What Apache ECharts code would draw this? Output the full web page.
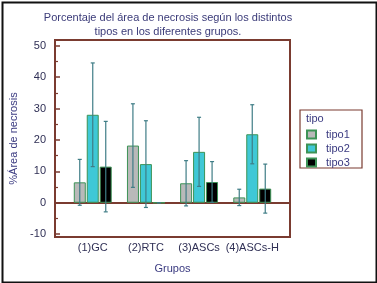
<!DOCTYPE html>
<html>
<head>
<meta charset="utf-8">
<script src="https://cdn.jsdelivr.net/npm/echarts@6/dist/echarts.min.js"></script>
<style>
  html, body { margin: 0; padding: 0; background: #fff; }
  #chart { width: 377px; height: 283px; }
</style>
</head>
<body>
<div id="chart"></div>
<script>
// datos
var grupos = ['(1)GC', '(2)RTC', '(3)ASCs', '(4)ASCs-H'];
var tipo1 = [6.5, 18.2, 6.2, 1.7];
var tipo2 = [28.0, 12.3, 16.2, 21.8];
var tipo3 = [11.5, 0, 6.6, 4.5];
var sd1 = [7.3, 13.3, 7.2, 2.6];
var sd2 = [16.5, 13.8, 11.0, 9.4];
var sd3 = [14.4, 0, 6.5, 7.8];
var yTicks = [-10, 0, 10, 20, 30, 40, 50];
var yMinor = [-5, 5, 15, 25, 35, 45];

var frameColor = '#7a3b30';
var textColor = '#2f2f55';
var nameColor = '#3a3a80';
var colores = ['#b9b9b9', '#3fc8d6', '#000000'];
var borde = '#3d9356';
var errColor = '#3f7d86';

var tipos = [tipo1, tipo2, tipo3];
var sds = [sd1, sd2, sd3];
var nombres = ['tipo1', 'tipo2', 'tipo3'];
var xPos = grupos.map(function (g, i) { return i + 1; });

var series = [];
nombres.forEach(function (n, k) {
	series.push({
		type: 'bar',
		name: n,
		barWidth: 12,
		barGap: '8%',
		data: tipos[k].map(function (v, i) { return [xPos[i], v]; }),
		itemStyle: { color: colores[k], borderColor: borde, borderWidth: 1 }
	});
});
// barras de error
nombres.forEach(function (n, k) {
	series.push({
		type: 'custom',
		z: 5,
		silent: true,
		data: tipos[k].map(function (v, i) { return [xPos[i], v, sds[k][i]]; }),
		renderItem: function (params, api) {
			var x = api.value(0), v = api.value(1), s = api.value(2);
			var off = (k - 1) * 13;
			var top = api.coord([x, v + s]);
			var bot = api.coord([x, v - s]);
			var cx = top[0] + off;
			var st = { stroke: errColor, lineWidth: 1.2 };
			return {
				type: 'group',
				children: [
					{ type: 'line', shape: { x1: cx, y1: top[1], x2: cx, y2: bot[1] }, style: st },
					{ type: 'line', shape: { x1: cx - 2, y1: top[1], x2: cx + 2, y2: top[1] }, style: st },
					{ type: 'line', shape: { x1: cx - 2, y1: bot[1], x2: cx + 2, y2: bot[1] }, style: st }
				]
			};
		}
	});
});
// ticks menores del eje y
series.push({ type: 'line', yAxisIndex: 1, data: [] });

var chart = echarts.init(document.getElementById('chart'));
chart.setOption({
	animation: false,
	textStyle: { fontFamily: 'Liberation Sans, Arial, sans-serif' },
	grid: {
		left: 55, right: 87, top: 40, bottom: 46,
		show: true, borderColor: frameColor, borderWidth: 2
	},
	xAxis: {
		type: 'value',
		min: 0.29,
		max: 4.71,
		name: 'Grupos',
		nameLocation: 'middle',
		nameGap: 26,
		nameTextStyle: { color: nameColor, fontSize: 11 },
		splitLine: { show: false },
		axisLine: { lineStyle: { color: frameColor, width: 2 } },
		axisTick: { inside: true, length: 5, customValues: xPos, lineStyle: { color: frameColor, width: 1.5 } },
		axisLabel: {
			customValues: xPos,
			color: textColor, fontSize: 11, margin: 5,
			formatter: function (v) { return grupos[Math.round(v) - 1]; }
		}
	},
	yAxis: [{
		type: 'value',
		min: -10.9,
		max: 51.8,
		name: '%Área de necrosis',
		nameLocation: 'middle',
		nameGap: 36,
		nameTextStyle: { color: nameColor, fontSize: 11 },
		splitLine: { show: false },
		axisLine: { show: true, lineStyle: { color: frameColor, width: 2 } },
		axisTick: { inside: true, length: 5, customValues: yTicks, lineStyle: { color: frameColor, width: 1.5 } },
		axisLabel: { customValues: yTicks, color: textColor, fontSize: 11, margin: 9 }
	}, {
		type: 'value',
		position: 'left',
		min: -10.9,
		max: 51.8,
		splitLine: { show: false },
		axisLine: { show: false },
		axisTick: { inside: true, length: 3, customValues: yMinor, lineStyle: { color: frameColor, width: 1.2 } },
		axisLabel: { show: false, customValues: yMinor }
	}],
	legend: {
		data: nombres,
		orient: 'vertical',
		left: 306,
		top: 129,
		padding: 0,
		icon: 'rect',
		itemWidth: 9,
		itemHeight: 8,
		itemGap: 3,
		textStyle: { color: nameColor, fontSize: 11, padding: [0, 0, 0, 5] }
	},
	graphic: [
		{ type: 'rect', left: 0, top: 0, shape: { x: 1, y: 1, width: 374, height: 280 }, style: { fill: 'none', stroke: '#111', lineWidth: 2 }, z: 100 },
		{ type: 'rect', shape: { x: 300, y: 110, width: 62, height: 58 }, style: { fill: 'none', stroke: frameColor, lineWidth: 1.2 } },
		{ type: 'text', x: 306, y: 113, style: { text: 'tipo', fill: nameColor, font: '11px Liberation Sans' } },
		{ type: 'text', x: 168, y: 11, style: { text: 'Porcentaje del área de necrosis según los distintos\ntipos en los diferentes grupos.', fill: '#3a3a78', font: '11px Liberation Sans', align: 'center', lineHeight: 14 } }
	],
	series: series
});
</script>
</body>
</html>
